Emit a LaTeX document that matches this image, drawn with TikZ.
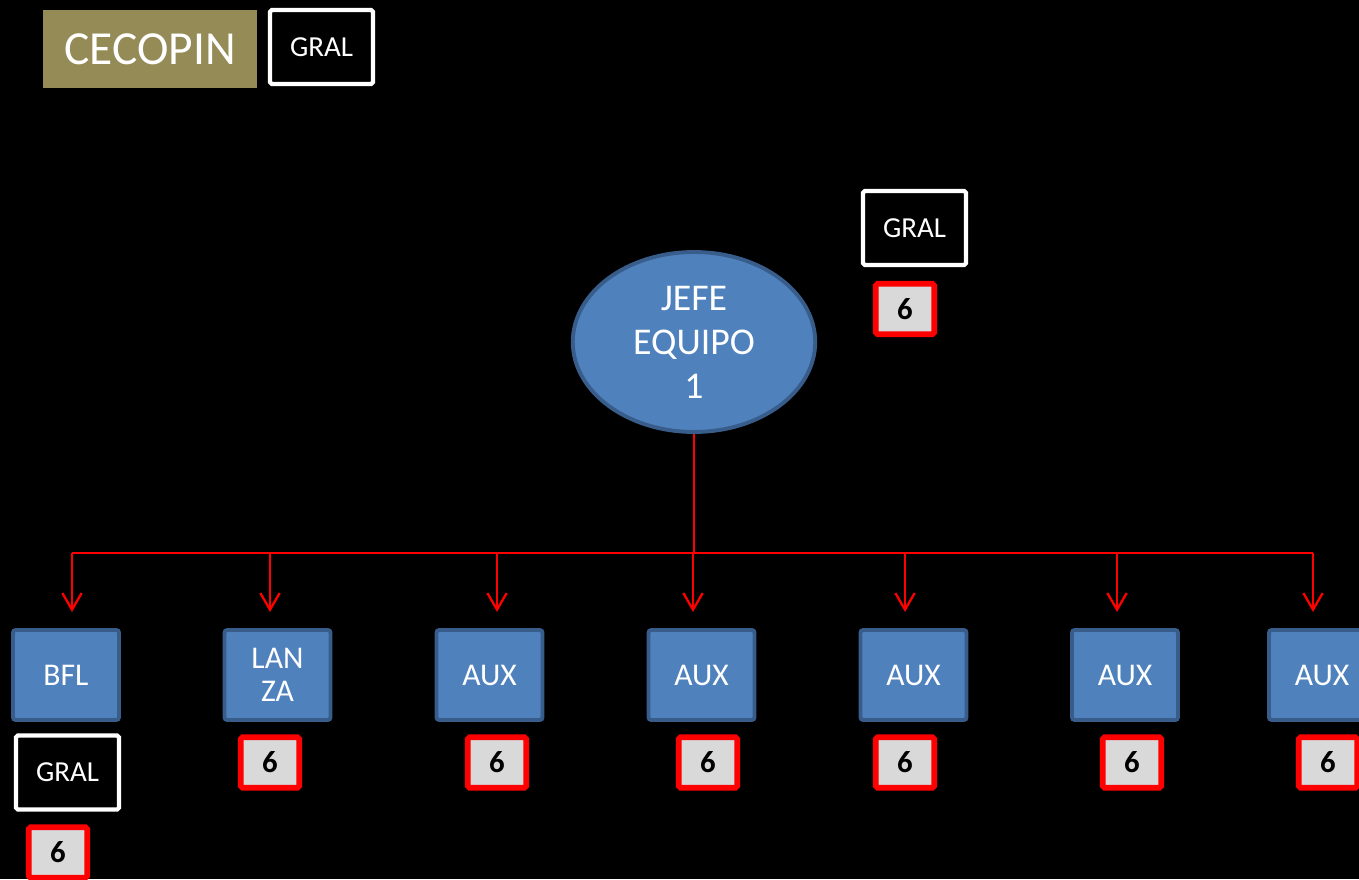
\documentclass[tikz,border=0pt]{standalone}
\usepackage{fontspec}
\setmainfont{Carlito}
\usetikzlibrary{positioning,calc,arrows.meta,shapes.geometric}
\definecolor{olivebg}{HTML}{958B56}
\definecolor{boxblue}{HTML}{4F81BD}
\definecolor{boxedge}{HTML}{385D8A}
\definecolor{numgray}{HTML}{D9D9D9}
\tikzset{
	unit/.style={draw=boxedge, fill=boxblue, line width=2.2pt, rounded corners=1.5pt,
		minimum width=2.12cm, minimum height=1.8cm, inner sep=0pt, align=center,
		text=white, font=\fontsize{18}{19}\selectfont},
	gral/.style={draw=white, fill=black, line width=2.4pt, rounded corners=1pt,
		minimum width=2.06cm, minimum height=1.48cm, inner sep=0pt,
		text=white, font=\fontsize{16.5}{18}\selectfont},
	num/.style={draw=red, fill=numgray, line width=3.2pt, rounded corners=1pt,
		minimum width=1.17cm, minimum height=1.01cm, inner sep=0pt,
		text=black, font=\fontsize{17.5}{19}\bfseries},
	link/.style={draw=red, line width=1.3pt},
	arr/.style={link, -{Straight Barb[length=9.5pt, width=11pt, line width=1.3pt]}}
}

\begin{document}
\begin{tikzpicture}[x=0.02cm, y=-0.02cm]
	\useasboundingbox (0,0) rectangle (1359,879);
	\fill[black] (0,0) rectangle (1359,879);
	\clip (0,0) rectangle (1359,879);

	% title
	\node[fill=olivebg, minimum width=4.28cm, minimum height=1.56cm, inner sep=0pt,
		text=white, font=\fontsize{27}{30}\selectfont] (cecopin) at (150,49) {CECOPIN};
	\node[gral] (gral0) at (321.5,47) {GRAL};

	% jefe
	\node[ellipse, draw=boxedge, fill=boxblue, line width=2.2pt, inner sep=0pt,
		minimum width=4.85cm, minimum height=3.6cm, align=center, text=white,
		font=\fontsize{21.5}{25}\selectfont] (jefe) at (694,342) {JEFE\\EQUIPO\\1};
	\node[gral] (gral1) at (914.5,228) {GRAL};
	\node[num] (n0) at (905,309) {6};

	% team
	\foreach \i/\x/\t in {1/66/BFL, 2/277.5/{LAN\\ZA}, 3/489.5/AUX, 4/701.5/AUX,
		5/913.5/AUX, 6/1125/AUX, 7/1322/AUX}
		\node[unit] (u\i) at (\x,675) {\t};
	\foreach \i/\x in {2/270, 3/497, 4/708, 5/905, 6/1132, 7/1328}
		\node[num] (n\i) at (\x,762.5) {6};
	\node[gral] (gral2) at (67.5,772.5) {GRAL};
	\node[num] (n1) at (58,852.5) {6};

	% links
	\coordinate (bus) at (694,553);
	\foreach \i/\x in {1/72, 2/270, 3/497, 4/693, 5/905, 6/1117, 7/1313}
		\coordinate (t\i) at (\x,612);
	\draw[link] (jefe.south) -- (bus);
	\draw[link] (t1 |- bus) -- (t7 |- bus);
	\foreach \i in {1,...,7}
		\draw[arr] (t\i |- bus) -- (t\i);
\end{tikzpicture}
\end{document}
